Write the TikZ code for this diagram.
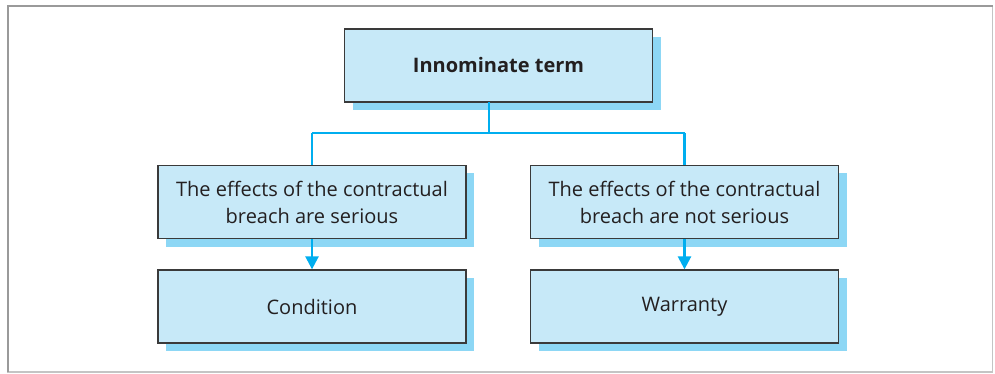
\documentclass[tikz,border=0pt]{standalone}
\usepackage{fontspec}
\setmainfont{Open Sans}
\usetikzlibrary{shadows,arrows.meta}
\definecolor{boxfill}{HTML}{C7E9F8}
\definecolor{shadowblue}{HTML}{8DD7F5}
\definecolor{linkblue}{HTML}{00AEEF}
\definecolor{edgegray}{HTML}{3A3A3A}
\definecolor{txt}{HTML}{231F20}
\definecolor{framedark}{HTML}{9A9A9A}
\definecolor{framelight}{HTML}{C4C4C4}
\tikzset{
  termbox/.style={draw=edgegray, line width=1.3pt, fill=boxfill, text=txt,
    minimum width=308pt, minimum height=73pt, inner sep=0pt, align=center,
    font=\fontsize{20}{27}\selectfont,
    drop shadow={shadow xshift=8pt, shadow yshift=-8pt, fill=shadowblue, opacity=1}},
  link/.style={draw=linkblue, line width=2.5pt},
  arrowlink/.style={link, -{Triangle[length=13pt, width=13pt]}}
}
\begin{document}
\begin{tikzpicture}[x=1pt, y=-1pt]
\useasboundingbox (0,0) rectangle (995,374);
% frame
\draw[framelight, line width=1.2pt] (992.5,6) -- (992.5,372) -- (7,372);
\draw[framedark, line width=2.2pt] (8,372) -- (8,6) -- (993,6);
% nodes
\node[termbox] (top) at (498.5,65.5) {\textbf{Innominate term}};
\node[termbox] (ml) at (312,202) {The effects of the contractual\\breach are serious};
\node[termbox] (mr) at (684.5,202) {The effects of the contractual\\breach are not serious};
\node[termbox] (bl) at (312,306.5) {Condition};
\node[termbox] (br) at (684.5,306.5) {Warranty};
% connectors
\coordinate (trunk) at (489,102);
\coordinate (fork) at (489,133);
\draw[link] (trunk) -- (fork);
\draw[link] (fork -| ml.north) -- (fork -| mr.north);
\draw[link] (fork -| ml.north) -- (ml.north);
\draw[link] (fork -| mr.north) -- (mr.north);
\draw[arrowlink] (ml.south) -- (bl.north);
\draw[arrowlink] (mr.south) -- (br.north);
\end{tikzpicture}
\end{document}
